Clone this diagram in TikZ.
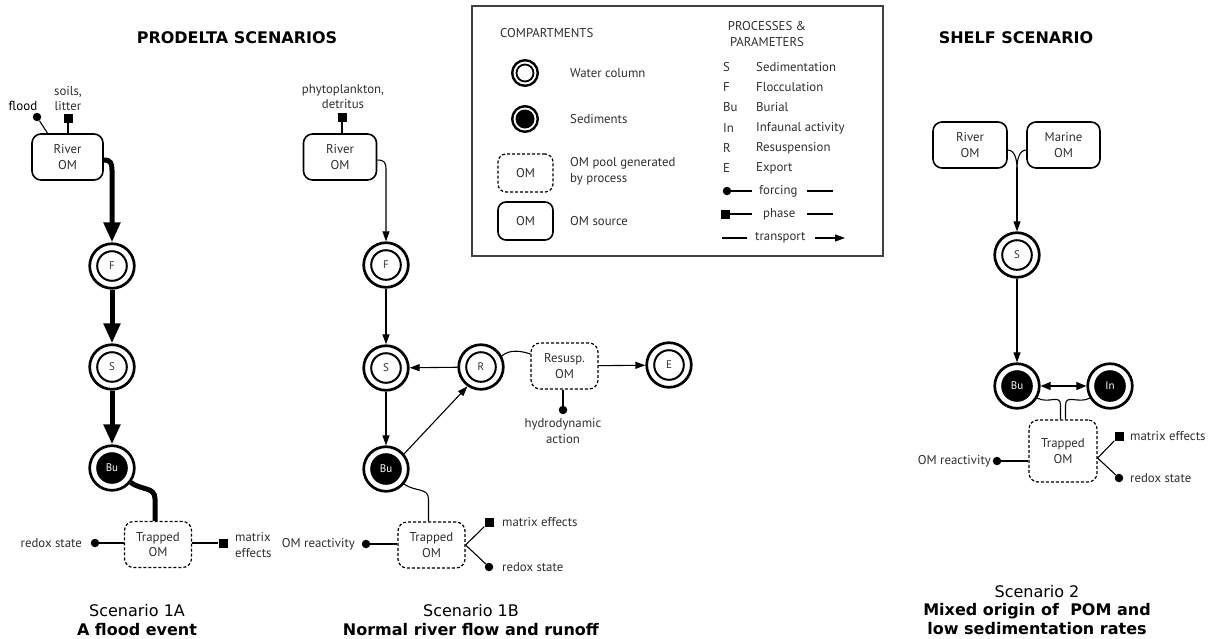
\documentclass[tikz,border=0pt]{standalone}
\usepackage{fontspec}
\setmainfont{PT Sans}
\newfontfamily\vfont{DejaVu Sans}
\usetikzlibrary{arrows.meta,calc}
\begin{document}
\begin{tikzpicture}[x=1pt,y=-1pt,
  every node/.style={font=\fontsize{12.8}{15.5}\selectfont, text=black!82, inner sep=0pt},
  wc/.style={circle, draw, line width=2.7pt, minimum size=44.6pt, font=\fontsize{11}{12}\selectfont,
    path picture={\draw[line width=2pt] (path picture bounding box.center) circle (14.8pt);}},
  sed/.style={circle, draw, line width=2.7pt, minimum size=44.6pt, text=white, font=\fontsize{11}{12}\selectfont,
    path picture={\fill[black] (path picture bounding box.center) circle (15.8pt);}},
  lwc/.style={circle, draw, line width=2.4pt, minimum size=25.6pt,
    path picture={\draw[line width=1.8pt] (path picture bounding box.center) circle (8.5pt);}},
  lsed/.style={circle, draw, line width=2.4pt, minimum size=25.6pt,
    path picture={\fill[black] (path picture bounding box.center) circle (9.5pt);}},
  src/.style={draw, rounded corners=9pt, line width=1.6pt, minimum width=72pt, minimum height=46pt, align=center},
  pool/.style={draw, dash pattern=on 3pt off 2pt, rounded corners=9pt, line width=1.2pt, minimum width=67pt, minimum height=46pt, align=center},
  conn/.style={line width=1.1pt},
  arr/.style={conn, -{Triangle[width=7pt,length=10pt]}},
  thk/.style={line width=5pt},
  tarr/.style={thk, -{Triangle[width=16pt,length=20pt]}},
  fdot/.style={circle, fill=black, minimum size=8.5pt},
  phsq/.style={fill=black, minimum size=9pt},
  ttl/.style={font={\vfont\bfseries\fontsize{16}{18}\selectfont}, text=black},
  captxt/.style={font={\vfont\fontsize{16}{18.5}\selectfont}, text=black, align=center}
]
\useasboundingbox (0,0) rectangle (1209,638);

% titles
\node[ttl] (t1) at (237,38) {PRODELTA SCENARIOS};
\node[ttl] (t2) at (1016,38) {SHELF SCENARIO};

% legend
\node[draw=black!75, line width=1.3pt, minimum width=411pt, minimum height=250pt] (leg) at (677.5,131) {};
\node[anchor=west] (lc) at (500,33) {COMPARTMENTS};
\node[lwc] (lw) at (525,73) {};
\node[anchor=west] (lwt) at (570,73) {Water column};
\node[lsed] (ls) at (525,119) {};
\node[anchor=west] (lst) at (570,119) {Sediments};
\node[pool, minimum width=55pt, minimum height=38pt, rounded corners=8pt] (lp) at (525.5,173) {OM};
\node[anchor=west, align=left] (lpt) at (570,171) {OM pool generated\\by process};
\node[src, minimum width=55pt, minimum height=38pt, rounded corners=8pt] (lo) at (525.5,221) {OM};
\node[anchor=west] (lot) at (570,221) {OM source};
\node[align=center] (lpp) at (767,34) {PROCESSES \&\\PARAMETERS};
\foreach \a/\b/\y [count=\i] in {S/Sedimentation/67, F/Flocculation/87, Bu/Burial/107, In/Infaunal activity/128, R/Resuspension/148, E/Export/168}{
  \node[anchor=west] (la\i) at (723,\y) {\a};
  \node[anchor=west] (lb\i) at (756,\y) {\b};
}
\node[fdot] (lfd) at (727,191) {};
\coordinate (lf1) at (752,191);
\draw[conn] (lfd) -- (lf1);
\node[anchor=west] (lft) at (759,191) {forcing};
\coordinate (lf2) at (807,191); \coordinate (lf3) at (833,191);
\draw[conn] (lf2) -- (lf3);
\node[phsq] (lps) at (725,214) {};
\coordinate (lp1) at (752,214);
\draw[conn] (lps) -- (lp1);
\node[anchor=west] (lph) at (763,214) {phase};
\coordinate (lp2) at (807,214); \coordinate (lp3) at (833,214);
\draw[conn] (lp2) -- (lp3);
\coordinate (lt0) at (722,238); \coordinate (lt1) at (747,238);
\draw[conn] (lt0) -- (lt1);
\node[anchor=west] (ltt) at (755,238) {transport};
\coordinate (lt2) at (815,238); \coordinate (lt3) at (845,238);
\draw[arr] (lt2) -- (lt3);

% ---------- Scenario 1A ----------
\node[fdot] (fl) at (37,117) {};
\node[font=\fontsize{13}{15}\selectfont, text=black] (flt) at (23,106) {flood};
\node[phsq] (sA) at (68,118) {};
\node[align=center] (soil) at (68,98.5) {soils,\\litter};
\node[src, minimum width=71pt] (rA) at (67.5,157) {River\\OM};
\draw[conn] (fl) -- (rA.130);
\draw[conn] (sA) -- (sA |- rA.north);
\node[wc] (FA) at (112,266) {F};
\node[wc] (SA) at (112,367) {S};
\node[sed] (BA) at (112,468) {Bu};
\node[pool] (TA) at (158,544.5) {Trapped\\OM};
\node[fdot] (rdA) at (95,543) {};
\node[anchor=east] (rdAt) at (82,543) {redox state};
\node[phsq] (mxA) at (223,543) {};
\node[anchor=west, align=left] (mxAt) at (235,545) {matrix\\effects};
\draw[tarr] ($(rA.east)+(0,3)$) .. controls +(7,0) and +(0,-7) .. ($(FA.north)+(0,-72)$) -- (FA);
\draw[tarr] (FA) -- (SA);
\draw[tarr] (SA) -- (BA);
\draw[thk] (BA.-38) .. controls +(12,8) and +(0,-12) .. ($(TA.north)+(-3,-22)$) -- ([xshift=-3pt]TA.north);
\draw[line width=2pt] (rdA) -- (rdA -| TA.west);
\draw[line width=2pt] (mxA -| TA.east) -- (mxA);

% ---------- Scenario 1B ----------
\node[phsq] (sB) at (342,117) {};
\node[align=center] (phy) at (343,96.5) {phytoplankton,\\detritus};
\node[src, minimum width=73pt] (rB) at (340,157) {River\\OM};
\draw[conn] (sB) -- (sB |- rB.north);
\node[wc] (FB) at (386,265) {F};
\node[wc] (SB) at (386,368) {S};
\node[sed] (BB) at (386,469) {Bu};
\node[wc] (RB) at (481,367) {R};
\node[pool] (PB) at (564.5,366) {Resusp.\\OM};
\node[wc] (EB) at (669,365) {E};
\node[pool] (TB) at (431.5,545) {Trapped\\OM};
\node[fdot] (hyd) at (563,410) {};
\node[align=center] (hydt) at (563,431) {hydrodynamic\\action};
\node[fdot] (omrB) at (366,544) {};
\node[anchor=east] (omrBt) at (355,544) {OM reactivity};
\node[phsq] (mxB) at (489,522) {};
\node[anchor=west] (mxBt) at (502,522) {matrix effects};
\node[fdot] (rdB) at (489,567) {};
\node[anchor=west] (rdBt) at (502,567) {redox state};
\draw[arr] ($(rB.east)+(0,3)$) .. controls +(7,0) and +(0,-7) .. ($(FB.north)+(0,-72)$) -- (FB);
\draw[arr] (FB) -- (SB);
\draw[arr] (SB) -- (BB);
\draw[arr] (RB) -- (SB);
\draw[arr] (BB.40) -- (RB.-125);
\draw[conn] (RB.28) .. controls +(8,-7) and +(-9,-3) .. ([yshift=12pt]PB.west);
\draw[arr] (PB) -- (EB);
\draw[conn] (hyd |- PB.south) -- (hyd);
\draw[conn] (BB.-40) .. controls +(12,8) and +(0,-12) .. ($(TB.north)+(-3,-22)$) -- ([xshift=-3pt]TB.north);
\draw[conn] (omrB) -- (omrB -| TB.west);
\draw[conn] (TB.east) -- (mxB);
\draw[conn] (TB.east) -- (rdB);

% ---------- Shelf scenario ----------
\node[src, minimum width=74pt] (rS) at (970,145) {River\\OM};
\node[src, minimum width=73pt] (mS) at (1063.5,145) {Marine\\OM};
\node[wc] (SS) at (1017,255) {S};
\node[sed] (BS) at (1017,386) {Bu};
\node[sed] (IS) at (1110,386) {In};
\node[pool, minimum height=62pt, minimum width=68pt] (TS) at (1063,451) {Trapped\\OM};
\coordinate (jS) at (1017,168);
\draw[conn] ($(rS.east)+(0,5)$) .. controls +(7,0) and +(0,-8) .. (jS);
\draw[conn] ($(mS.west)+(0,5)$) .. controls +(-7,0) and +(0,-8) .. (jS);
\draw[arr] (jS) -- (SS);
\draw[arr] (SS) -- (BS);
\draw[conn, {Triangle[width=8pt,length=10pt]}-{Triangle[width=8pt,length=10pt]}] (BS) -- (IS);
\draw[conn] (BS.-31) .. controls +(12,6) and +(0,-12) .. ($(TS.north)+(-2.5,-14)$) -- ([xshift=-2.5pt]TS.north);
\draw[conn] (IS.-149) .. controls +(-12,6) and +(0,-12) .. ($(TS.north)+(2.5,-14)$) -- ([xshift=2.5pt]TS.north);
\node[fdot] (omrS) at (997,461) {};
\node[anchor=east] (omrSt) at (991,461) {OM reactivity};
\draw[conn] (omrS) -- (omrS -| TS.west);
\node[phsq] (mxS) at (1119,436) {};
\node[anchor=west] (mxSt) at (1130,436) {matrix effects};
\node[fdot] (rdS) at (1119,478) {};
\node[anchor=west] (rdSt) at (1130,478) {redox state};
\draw[conn] ([yshift=-7pt]TS.east) -- (mxS);
\draw[conn] ([yshift=-7pt]TS.east) -- (rdS);

% captions
\node[captxt] (c1) at (137,620) {Scenario 1A\\\textbf{A flood event}};
\node[captxt] (c2) at (471,620) {Scenario 1B\\\textbf{Normal river flow and runoff}};
\node[captxt] (c3) at (1037,610) {Scenario 2\\\textbf{Mixed origin of\ \ POM and}\\\textbf{low sedimentation rates}};
\end{tikzpicture}
\end{document}
